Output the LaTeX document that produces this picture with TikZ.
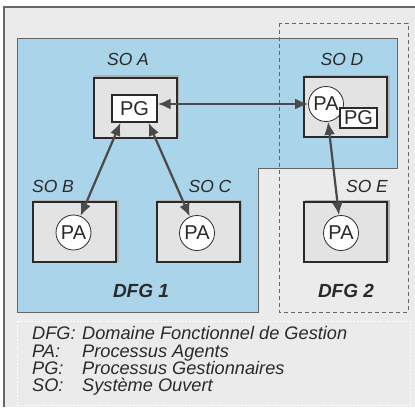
\documentclass[tikz,border=0pt]{standalone}
\usepackage{fontspec}
\setmainfont{Liberation Sans}
\usepackage{tikz}
\usetikzlibrary{arrows.meta}
\definecolor{bleu}{HTML}{A9D4EA}
\definecolor{fond}{HTML}{EBEBEB}
\definecolor{boite}{HTML}{E3E3E3}
\definecolor{encre}{HTML}{2A2A2A}

\begin{document}
\begin{tikzpicture}[x=1pt,y=-1pt]
\tikzset{so/.style = {shape=rectangle,draw=encre,line width=2pt,fill=boite,minimum width=83pt,minimum height=60pt,inner sep=0pt,
  preaction={draw=gray!60,line width=2pt,transform canvas={shift={(1.5pt,1.5pt)}}}}}
\tikzset{pa/.style = {shape=circle,draw=encre,line width=0.8pt,fill=white,minimum size=35pt,inner sep=0pt,text=encre,font=\fontsize{20}{20}\selectfont}}
\tikzset{pg/.style = {shape=rectangle,draw=encre,line width=1.4pt,fill=white,inner sep=0pt,text=encre,font=\fontsize{20}{20}\selectfont}}
\tikzset{titre/.style = {anchor=base,text=encre,font=\fontsize{17.5}{17.5}\selectfont\itshape}}
\tikzset{dfg/.style = {anchor=base,text=encre,font=\fontsize{19}{19}\selectfont\bfseries\itshape}}
\tikzset{legende/.style = {anchor=base west,inner sep=0pt,text=encre,font=\fontsize{18.2}{18.2}\selectfont\itshape}}
\tikzset{edge/.style = {<->,> = {Latex[length=13pt,width=11pt]},line width=2.2pt,draw=encre!85}}
\useasboundingbox (0,0) rectangle (415,407);
% fonds
\fill[white] (0,0) rectangle (415,407);
\fill[fond] (4,7) rectangle (415,407);
\draw[gray!80!black,line width=1.5pt] (4,407) -- (4,7) -- (415,7);
\filldraw[fill=bleu,draw=gray!80!black,line width=0.7pt] (17,38) -- (397,38) -- (397,168) -- (258,168) -- (258,312) -- (17,312) -- cycle;
\draw[gray!80!black,line width=0.8pt,dash pattern=on 4pt off 3pt] (279,23) rectangle (408,312);
\draw[white,line width=0.7pt,dash pattern=on 2pt off 1.5pt] (17,321) rectangle (410,405);
% systemes
\node[so] (soA) at (135,107.5) {};
\node[so] (soD) at (345.5,107) {};
\node[so] (soB) at (74.5,232) {};
\node[so] (soC) at (198,232) {};
\node[so] (soE) at (345.5,232) {};
% processus
\node[pg,minimum width=45pt,minimum height=27pt] (pgA) at (134.5,108.5) {PG};
\node[pa] (paD) at (326,104) {PA};
\node[pg,minimum width=37pt,minimum height=20pt] (pgD) at (358.5,118) {PG};
\node[pa] (paB) at (73.5,232.5) {PA};
\node[pa] (paC) at (197,233) {PA};
\node[pa] (paE) at (341,233) {PA};
% titres
\node[titre] (tA) at (128,65) {SO A};
\node[titre] (tD) at (342,65) {SO D};
\node[titre] (tB) at (53,192) {SO B};
\node[titre] (tC) at (210,192) {SO C};
\node[titre] (tE) at (367,192) {SO E};
\node[dfg] (dfg1) at (141,297) {DFG 1};
\node[dfg] (dfg2) at (346,297) {DFG 2};
%edges
\draw[edge] (paD.west) -- (paD.west -| pgA.east);
\draw[edge] (paB) -- ([xshift=-14pt]pgA.south);
\draw[edge] (paC) -- ([xshift=14pt]pgA.south);
\draw[edge] (paD) -- (paE);
% legende
\node[legende] (kDFG) at (32,339) {DFG:};
\node[legende] (vDFG) at (82,339) {Domaine Fonctionnel de Gestion};
\node[legende] (kPA) at (32,357) {PA:};
\node[legende] (vPA) at (82,357) {Processus Agents};
\node[legende] (kPG) at (32,374) {PG:};
\node[legende] (vPG) at (82,374) {Processus Gestionnaires};
\node[legende] (kSO) at (32,391) {SO:};
\node[legende] (vSO) at (82,391) {Système Ouvert};
\end{tikzpicture}
\end{document}
